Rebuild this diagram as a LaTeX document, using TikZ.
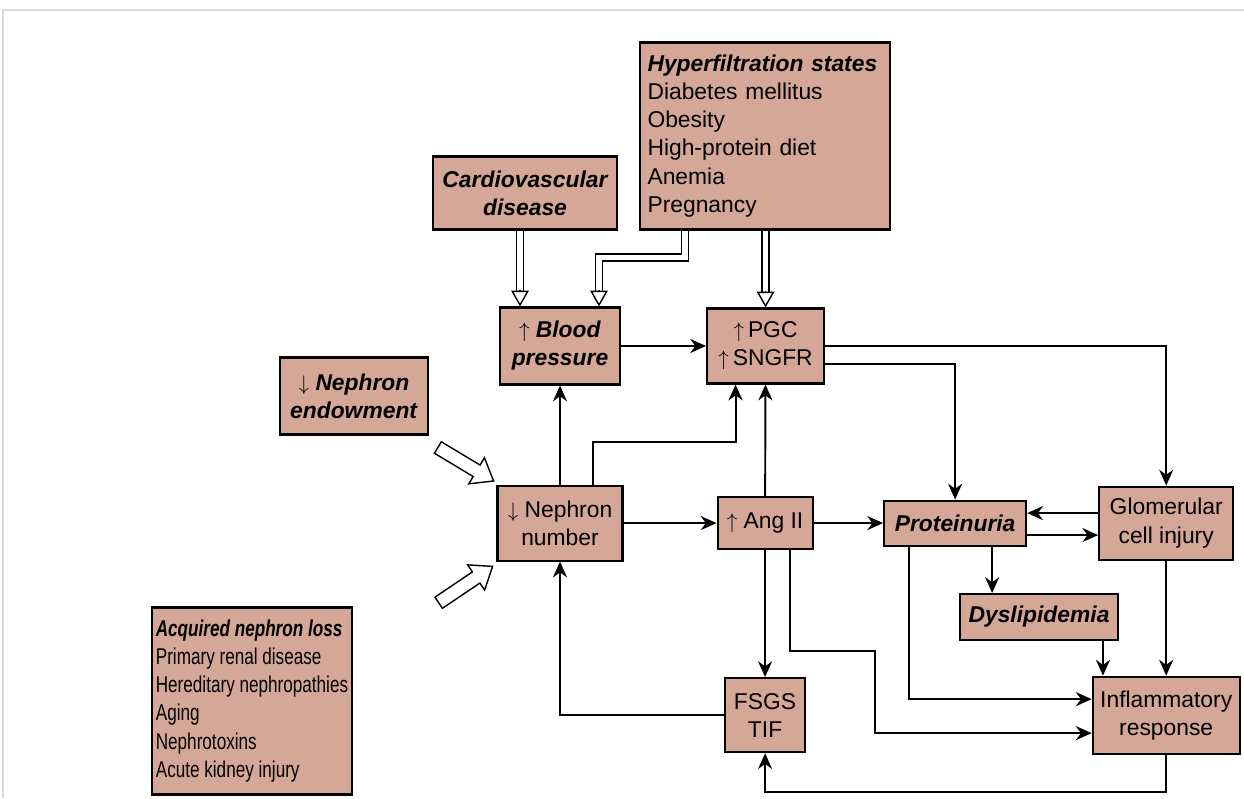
\documentclass[tikz,border=0pt]{standalone}
\usepackage{fontspec}
\setmainfont{Liberation Sans}
\newfontfamily\narrowfont{Liberation Sans}[FakeStretch=0.75]
\usetikzlibrary{positioning, arrows.meta, calc, shapes.arrows}

\definecolor{boxfill}{RGB}{212,167,150}

\begin{document}
\begin{tikzpicture}[
    x=0.02cm, y=-0.02cm,
    box/.style={rectangle, draw=black, line width=1.2pt, fill=boxfill, align=center, inner sep=2pt, font=\fontsize{13}{16}\selectfont},
    hd/.style={box, font=\fontsize{13}{16}\selectfont\bfseries\itshape},
    arr/.style={-{Stealth[length=9pt, width=8pt]}, line width=1.1pt},
    hol/.style={double, double distance=3.2pt, line width=0.8pt, shorten >=9pt},
    holtip/.style={-{Triangle[open, length=9pt, width=10pt, fill=white]}, line width=0.8pt},
    fat/.style={single arrow, draw, line width=0.8pt, fill=white, minimum height=1.3cm, minimum width=0.6cm, single arrow head extend=0.17cm, single arrow tip angle=75, inner sep=0.12cm},
]
\useasboundingbox (0,0) rectangle (1244,798);
\draw [black!15, line width=1pt] (3,798) -- (3,10) -- (1244,10);

\node [box, minimum width=5cm, minimum height=3.74cm, text width=4.7cm, align=left] (hyper) at (765,136) {
  {\bfseries\itshape Hyperfiltration states}\\
  Diabetes mellitus\\ Obesity\\ High-protein diet\\ Anemia\\ Pregnancy
};

\node [hd, minimum width=3.68cm, minimum height=1.46cm] (cardio) at (525,193) {Cardiovascular\\ disease};

\node [box, minimum width=2.4cm, minimum height=1.54cm] (bp) at (560,346) {
  $\uparrow$ \textbf{\textit{Blood}}\\ \textbf{\textit{pressure}}
};

\node [box, minimum width=2.34cm, minimum height=1.5cm, right=1.7cm of bp] (pgc) {$\uparrow$\,PGC\\ $\uparrow$\,SNGFR};

\node [box, minimum width=2.96cm, minimum height=1.54cm] (endow) at (354,396) {
  $\downarrow$ \textbf{\textit{Nephron}}\\ \textbf{\textit{endowment}}
};

\node [box, minimum width=2.5cm, minimum height=1.5cm, below=1.98cm of bp] (nnum) {$\downarrow$ Nephron\\ number};

\node [box, minimum width=1.9cm, minimum height=1.04cm, right=1.86cm of nnum] (ang) {$\uparrow$ Ang II};

\node [hd, minimum width=2.84cm, minimum height=0.9cm, right=1.39cm of ang] (prot) {Proteinuria};

\node [box, minimum width=2.68cm, minimum height=1.46cm, right=1.42cm of prot] (glom) {Glomerular\\ cell injury};

\node [hd, minimum width=3.16cm, minimum height=0.92cm] (dysl) at (1039,617) {Dyslipidemia};

\node [box, minimum width=2.94cm, minimum height=1.54cm, below=2.3cm of glom] (infl) {Inflammatory\\ response};

\node [box, minimum width=1.6cm, minimum height=1.48cm, below=2.54cm of ang] (fsgs) {FSGS\\ TIF};

\node [box, minimum width=3.98cm, minimum height=3.74cm, align=left, font=\fontsize{13}{16}\selectfont\narrowfont] (acq) at (252,701) {
  {\bfseries\itshape Acquired nephron loss}\\
  Primary renal disease\\ Hereditary nephropathies\\ Aging\\ Nephrotoxins\\ Acute kidney injury
};

% block arrows into nephron number
\node [fat, rotate=-31] (endarr) at (462,462) {};
\node [fat, rotate=34] (acqarr) at (462,587) {};

% hollow double arrows
\draw [hol] ([xshift=-0.8cm]bp.north |- cardio.south) -- ([xshift=-0.8cm]bp.north);
\draw [holtip] ([xshift=-0.8cm, yshift=9.2pt]bp.north) -- ([xshift=-0.8cm]bp.north);
\draw [hol] ([xshift=-1.6cm]hyper.south) -- ++(0,-0.54cm) -| ([xshift=0.78cm]bp.north);
\draw [holtip] ([xshift=0.78cm, yshift=9.2pt]bp.north) -- ([xshift=0.78cm]bp.north);
\draw [hol] (hyper.south -| pgc.north) -- (pgc.north);
\draw [holtip] ([yshift=9.2pt]pgc.north) -- (pgc.north);

\draw [arr] (bp) -- (pgc);
\draw [arr] (nnum) -- (bp);
\draw [arr] ([xshift=0.66cm]nnum.north) -- ++(0,0.86cm) -| ([xshift=-0.6cm]pgc.south);
\draw [arr] (ang) -- (pgc);
\draw [arr] (nnum) -- (ang);
\draw [arr] (ang) -- (prot);
\draw [arr] (pgc.east) -| (glom.north);
\draw [arr] ([yshift=-0.36cm]pgc.east) -| (prot.north);
\draw [arr] ([yshift=0.2cm]glom.west) -- ([yshift=0.2cm]glom.west -| prot.east);
\draw [arr] ([yshift=-0.24cm]prot.east) -- ([yshift=-0.24cm]prot.east -| glom.west);
\draw [arr] ([xshift=0.74cm]prot.south) -- ([xshift=0.74cm]prot.south |- dysl.north);
\draw [arr] ([xshift=-0.92cm]prot.south) |- ([yshift=0.32cm]infl.west);
\draw [arr] ([xshift=0.5cm]ang.south) |- ($(ang.south)+(2.2cm,-2.02cm)$) |- ([yshift=-0.36cm]infl.west);
\draw [arr] (ang) -- (fsgs);
\draw [arr] ([xshift=1.28cm]dysl.south) -- ([xshift=1.28cm]dysl.south |- infl.north);
\draw [arr] (glom) -- (infl);
\draw [arr] (infl.south) -- ++(0,-0.74cm) -| (fsgs.south);
\draw [arr] (fsgs.west) -| (nnum.south);

\end{tikzpicture}
\end{document}
